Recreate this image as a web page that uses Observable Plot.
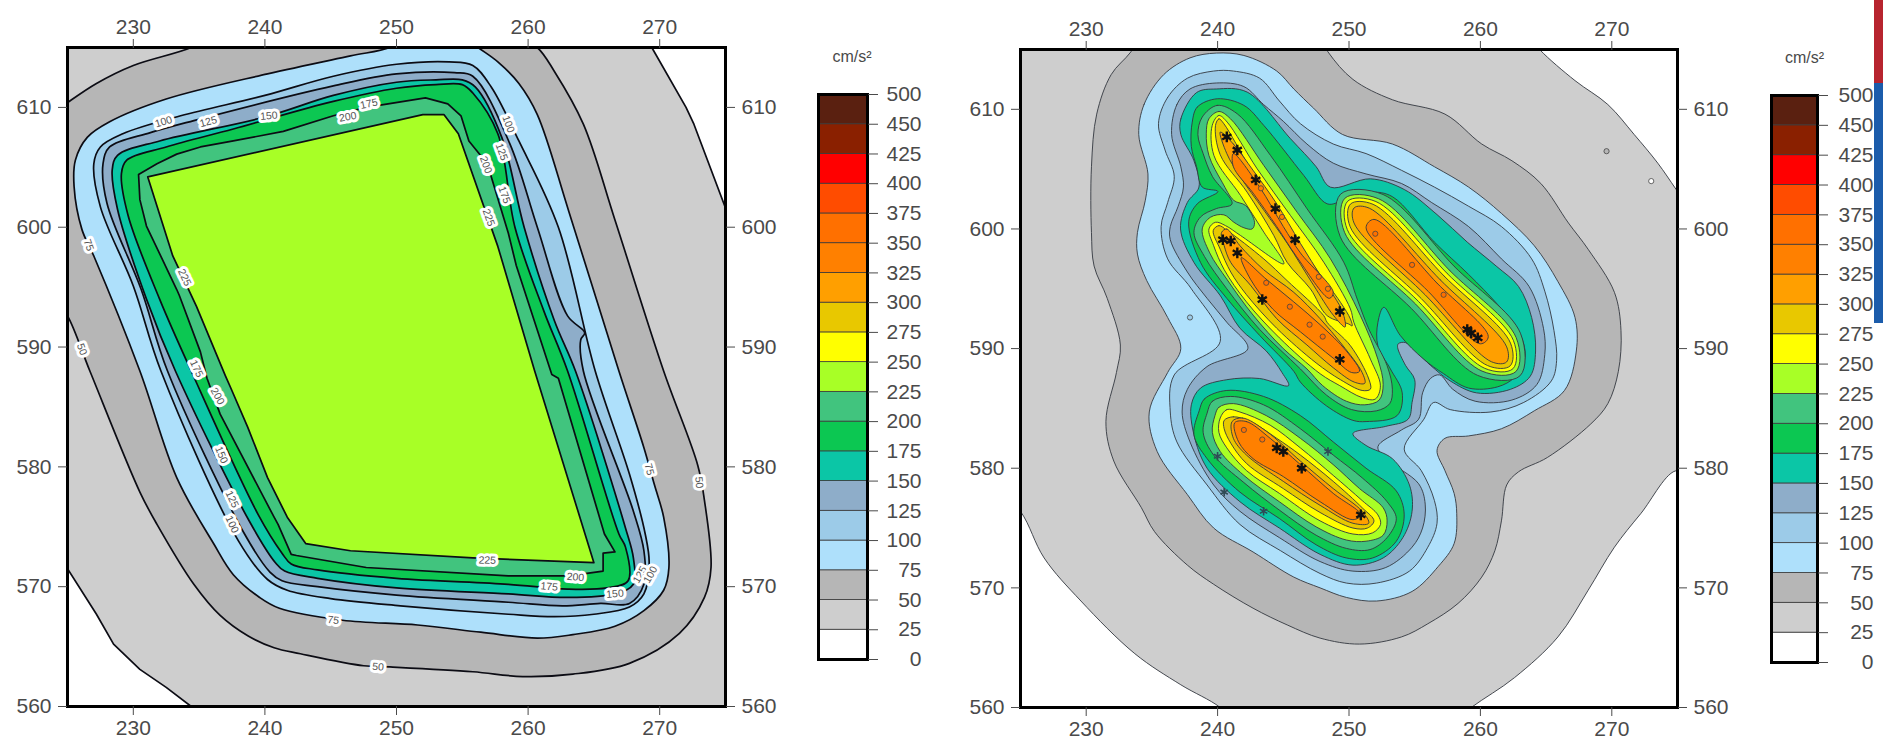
<!DOCTYPE html>
<html>
<head>
<meta charset="utf-8">
<script src="https://cdn.jsdelivr.net/npm/d3@7"></script>
<script src="https://cdn.jsdelivr.net/npm/@observablehq/plot@0.6"></script>
<style>
html,body{margin:0;padding:0;background:#fff;width:1883px;height:749px;overflow:hidden}
#root{position:relative;width:1883px;height:749px}
#root svg{position:absolute;top:0;overflow:visible;background:transparent}
.strip{position:absolute;left:1874px;width:9px}
</style>
</head>
<body>
<div id="root"></div>
<script>
const levels = [0,25,50,75,100,125,150,175,200,225,250,275,300,325,350,375,400,425,450,500];
const bandColors = ["#ffffff","#cecece","#b6b6b6","#aee0fb","#9ccbe8","#8eadc9","#0bc6a6","#0cc752","#41c47e","#a8ff26","#ffff00","#e8c800","#ff9f00","#ff8000","#ff7000","#ff4c00","#ff0000","#8a2000","#5a2010"];
const lonTicks = [230,240,250,260,270];
const latTicks = [560,570,580,590,600,610];

// Left map
const a25 = [[225,615],[269.4,615],[272,610],[272.6,608.6],[275,601.6],[275,560],[234.4,560],[232.5,561.6],[230.5,563.1],[228.5,565.2],[227.2,567.7],[225,571.5]];
const a50 = [[224,609.6],[225,610.4],[227.2,612],[230,613.5],[234.4,615],[236,616],[259,616],[260.7,615],[262,613],[264.2,608.6],[266.6,600.6],[270.3,588],[272.9,580.1],[273.4,577.2],[273.9,571.6],[273.4,569.1],[271.5,566.1],[267.7,563.6],[263.4,562.7],[259.6,562.5],[255.8,562.9],[249.5,563.3],[247.5,563.4],[242.7,564.4],[240.7,564.9],[238.7,565.9],[236.6,567.6],[234.6,570.2],[231.8,575.2],[230.5,577.9],[226.7,588],[225,592.6],[224,594]];
const a75 = [[249.5,615],[251,616],[255,616],[256.2,615],[257.7,613.8],[259.3,612],[260.7,609.4],[263.1,601.3],[266.9,588],[268.8,581.6],[269.6,578.5],[270.3,575.8],[270.7,571.6],[270.3,569.7],[268.8,568],[266.6,566.7],[263.4,566],[260.7,565.7],[256.4,566.2],[251.6,566.8],[245.9,567.2],[241.1,568.2],[239.6,569.1],[237.6,571],[236.1,573.6],[233.3,579.1],[230.5,588],[227,597.6],[226.1,599.8],[225.5,603.4],[225.6,605.6],[226.5,607.5],[228.2,608.8],[232.5,610.7],[240.2,612.8],[246.5,614.3]];
const a100 = [[227,605.3],[227.5,606.7],[229.2,607.8],[233.6,609.3],[240,611],[245.2,612.6],[250,613.6],[254,613.8],[255.8,613.5],[257.2,611.7],[259.3,607.2],[262.3,600],[265.1,588],[267.7,579.4],[268.9,574.4],[269.2,572],[268.8,569.4],[267.7,568.3],[265,567.7],[262,567.5],[258.5,567.7],[250.3,568.4],[245,569],[241.7,569.7],[240.2,570.6],[238,573.8],[232.1,588],[230,595.1],[227.5,601.7]];
const a125 = [[227.7,605.3],[228.2,606.7],[231.3,607.9],[234.6,608.9],[245.2,611.8],[250,612.8],[254.4,612.9],[255.8,612.6],[258.6,607],[260.7,600],[263,592.6],[264.3,591.2],[264,590.6],[264.2,588],[268,576.3],[268.8,573],[268.8,570.2],[267.7,568.6],[265.5,568.6],[262.6,568.4],[258.5,568.7],[250,569.3],[244,570],[241.3,570.5],[240.4,571.2],[238.4,574.5],[232.6,588],[230.6,594.8],[228,602]];
const a150 = [[228.4,604.8],[228.8,606],[232,607.2],[240,609.2],[245.2,611],[250,612.1],[253,612.3],[255,612.3],[256,611.7],[258,607.5],[259.7,600],[262,592.2],[263.6,588],[267.4,574.9],[268,572.4],[268,570.2],[266.6,569.4],[263,569.1],[258.5,569.4],[250,569.9],[244,570.7],[241.5,571.3],[240.8,572],[238.8,575.5],[233.2,588],[231,594],[228.8,601.5]];
const a175 = [[229.1,604.5],[229.5,605.6],[232.5,606.7],[237.6,608.2],[245.2,610.5],[250,611.6],[253,611.9],[255,611.9],[255.8,611.2],[257.7,607.8],[259,600],[261.2,593],[263,588],[266.9,574.4],[267.4,573.3],[267.6,570.5],[266,569.9],[263,569.8],[258.5,570.2],[250,570.7],[244,571.4],[242,571.9],[241.3,572.8],[239.5,576],[234.4,588],[232,594],[229.6,601]];
const a200 = [[230.4,604.4],[231.8,605.3],[233.3,606.1],[235.1,606.7],[237.6,607.2],[241.4,608],[245.2,609.3],[247.7,610],[252.2,610.8],[253.9,610.3],[254.9,609.3],[255.5,607.2],[256.9,605.3],[258.5,599.5],[259.1,596.8],[261.8,587.7],[262.3,587.4],[265.8,574.4],[266.6,572.9],[265.7,572.8],[265.7,571.3],[263.1,570.9],[258.5,570.9],[247.7,571.6],[242.4,572.6],[242,572.7],[241,575.2],[240.7,575.8],[236.6,584.4],[235.6,587.4],[235.1,589.6],[233.5,594.3],[233.3,594.8],[231,600.1],[230.5,602.3]];
const a225 = [[231.1,604.2],[252,609.4],[253.6,609.4],[254.7,607.8],[257.7,598.4],[260.5,588],[265,572],[255.8,572.4],[246.5,573],[243.1,573.6],[241.7,575.8],[240.2,579.1],[238.7,583.3],[237.4,586.6],[237,587.6],[234.8,593.4],[233,597.6]];
const leftSmooth = [[50,a50],[75,a75],[100,a100],[125,a125],[150,a150],[175,a175]];
const leftLabels = [
 [232.3,608.8,"100",-17],[235.7,608.8,"125",-15],[240.3,609.3,"150",-5],[246.3,609.2,"200",-10],[247.9,610.3,"175",-12],
 [226.6,598.5,"75",70],[226.1,589.8,"50",70],[233.9,595.8,"225",65],[234.8,588.2,"175",65],[236.4,585.9,"200",60],
 [236.7,581,"150",68],[237.5,577.3,"125",65],[237.5,575.2,"100",65],[245.2,567.2,"75",8],[248.6,563.3,"50",5],
 [256.9,572.2,"225",2],[263.6,570.8,"200",5],[261.6,570,"175",5],[266.6,569.4,"150",-5],[268.5,571,"125",-60],[269.3,571,"100",-60],
 [269.2,579.8,"75",75],[273,578.7,"50",85],[258.5,608.6,"100",70],[258,606.3,"125",70],[256.8,605.2,"200",70],[258.2,602.7,"175",70],[257,600.8,"225",70]
];

// Right map
const b25 = [[220,620],[263,617],[264.5,615],[267.2,612.4],[269.7,610.4],[271.7,607.9],[273.5,605.5],[274.9,603.3],[277,600],[280,590],[277,577],[275,579.8],[272.2,576.2],[270.2,573.4],[268.2,569.8],[265.9,565.9],[262.6,562.5],[259.3,560],[257,558],[242,558],[240.2,560],[237.2,561.9],[233.7,564.5],[229.6,568.9],[226.8,572.5],[225,576.4],[222,580],[220,600]];
const b50 = [[233.4,614.8],[235,617.5],[247,617.5],[248.4,614.8],[250.3,612.5],[253.3,610.8],[257.3,609.6],[260.1,607.1],[262.4,605.7],[264.6,603.8],[266.7,600.5],[268.2,598.3],[270.2,594.7],[270.7,591.5],[270.5,588.1],[269.7,585.4],[268.4,583.7],[265.1,580.9],[262.9,579.7],[262,578.6],[261.6,575.6],[261.1,573.1],[260.1,570.9],[258.3,568.7],[256,567],[254,565.9],[250.8,565.3],[247.8,565.8],[245.3,566.9],[242.7,568.3],[239.7,570.3],[237.7,571.9],[235.2,574.7],[234.2,576.7],[232.1,580.6],[231.5,583.9],[232.3,588],[232.6,590.3],[231.6,594.2],[230.6,596.9],[230.4,599.7],[230.4,605.2],[230.8,609.6],[231.9,612.9]];
const b75 = [[234,607.9],[234.4,610.4],[235.9,612.9],[237.9,614.3],[239.9,614.7],[242,614.5],[244.5,613.2],[245.8,611.7],[247.3,610.1],[249.5,607.9],[253.3,607.1],[256.5,605.2],[259.1,603.5],[261.6,601.3],[264.1,598.6],[265.9,595.6],[267.2,592.6],[267.3,589.8],[266.4,586.5],[264.1,584.8],[261.6,583.3],[259.1,582.7],[257.3,582.5],[256.7,581.5],[257.3,579.8],[258,577.9],[258.2,576.2],[258,573.7],[256.8,571.8],[254.8,569.7],[252.1,568.9],[249.8,569.2],[247.8,570],[245.8,570.9],[242.7,573],[239.7,575],[237.7,577.8],[235.4,581.4],[234.8,584.7],[236.2,588],[237.2,590],[236.2,592.6],[234.6,595.7],[233.9,597.9],[233.9,599.7],[234.5,602.4],[234.7,604.6]];
const b100 = [[235.5,608.8],[236.2,611],[237.7,612.6],[239.7,613.2],[241.2,613.2],[243.2,612.6],[244.7,610.7],[246.3,608.8],[248.8,607.1],[251.3,606.3],[254,604.9],[256.5,603.5],[259.1,601.9],[261.6,600.2],[263.9,597.5],[264.9,594.8],[265.6,591.5],[265.8,589],[265.4,587.3],[263.3,585.5],[260.8,584.7],[257.7,584.9],[256.45,585.5],[255.7,584.1],[254.2,581.6],[255.5,579.8],[256.5,577.3],[256.7,575.4],[256,573.4],[254.6,571.4],[252.1,570.4],[249.8,570.4],[247.8,571.2],[244.8,573.1],[241.7,575.3],[239.2,578.6],[236.9,582.2],[236.4,584.7],[236.7,587.8],[240.2,590.6],[238,595],[236.2,597.5],[235.7,600.2],[236.2,602.2],[236.7,604.4],[236,606.6]];
const b125 = [[236.5,607.9],[236.9,610.4],[237.9,611.7],[239.9,612.2],[242,611.9],[243.5,610.4],[245,609],[246.8,607.1],[248.8,605.5],[251.3,604.6],[254,603.8],[256.3,602.2],[259.1,600.2],[261.6,597.5],[263.7,595.2],[264.8,591.7],[264.9,589.5],[264.3,587],[262.4,585.7],[259.6,585.6],[257.9,586.6],[256.9,587.8],[256.2,587.5],[255.6,586.3],[255.3,584.1],[254,583.2],[252.2,581.8],[252.8,580.8],[255.3,578.7],[255.8,577],[255.6,575],[254.8,573.4],[252.8,571.7],[250.3,571.4],[247.8,572.2],[244.7,574.2],[241.7,576.4],[239.7,578.6],[237.9,582.2],[237.3,584.7],[237.7,586.6],[239.2,588.5],[242.3,590],[240.7,592.2],[239.2,594.2],[237.7,596.4],[236.4,599.1],[236.4,600.2],[237,601.9],[237.4,603.5],[237.2,605.2]];
const b150 = [[237.2,607.9],[237.2,609.2],[238.4,611.4],[239.9,611.7],[242.25,611.44],[245.55,607.54],[247.5,605.2],[248.59,603.49],[251.63,604.19],[254.2,603.3],[256.7,601.2],[259,598.9],[261.2,596.9],[262.9,595.2],[263.9,592.6],[264.2,589.8],[263.8,587.7],[262.3,586.6],[259.7,586.3],[257.7,587.3],[256.2,588.6],[254.3,590.5],[253.75,590.4],[253.7,590.1],[254.3,588.6],[255,587.4],[254.8,585.5],[254.5,584.1],[252.8,583.5],[250.3,582.9],[251.3,581.9],[253.3,580.8],[254.6,578.6],[254.8,576.4],[254.1,574.2],[252.6,572.5],[250.3,571.9],[247.8,572.8],[244.7,575],[241.7,577.2],[239.2,580],[238.2,582.8],[238,585.3],[238.7,586.7],[240.7,587.4],[243.2,587.5],[245.4,586.9],[244.9,588],[243.7,589.8],[241.7,591.7],[240.22,594.4],[238.2,597.2],[237.18,600],[237.69,602.2],[238.58,603.5],[238.2,605.7]];
const b175abc = [[238.07,608.93],[238.45,610.19],[239.97,610.88],[242,610.33],[243.52,608.65],[246.56,604.47],[248.34,602.1],[249.6,602.4],[251.63,603.07],[253.3,602.7],[256.5,598.9],[259.1,596.2],[261.3,593.7],[262.9,591.5],[263.4,589.3],[262.6,587.6],[261.3,586.8],[259.1,586.7],[257.2,587.9],[255.7,589.1],[253.9,591.1],[252.65,593.45],[252.2,592.2],[252.2,590.2],[253.15,588.3],[254.05,586.3],[253.66,584.4],[251.3,583.9],[250.3,584],[248.3,585.2],[246.3,587.2],[245.8,588.1],[243.2,591.1],[240.7,594.2],[238.7,597.2],[237.8,600.6],[238.45,602.1],[240.02,603.13],[238.83,603.5],[238.4,605.2],[238,606.9]];
const b175d = [[238.6,584.8],[239,585.8],[240.7,586.5],[243.5,586],[246.3,584.4],[248.8,582.2],[251.3,580],[253.6,578.1],[254.2,576.1],[253.6,573.9],[251.8,572.5],[249.8,572.5],[247.5,573.6],[244.7,575.8],[241.7,578],[239.2,580.8],[238.2,582.8]];
const b200ab = [[238.83,609.35],[239.97,610.33],[241.49,609.63],[244.03,606.14],[246.81,601.68],[249.6,597.22],[250.62,594.15],[251.51,591.63],[252.9,588.57],[253.3,586.6],[253.1,585.4],[252.1,584.8],[250.2,584.9],[248.3,586.1],[246.3,588.3],[243.2,591.6],[240.7,595],[239,597.7],[238.2,599.7],[238.7,601],[239.9,601.7],[241.1,602.1],[239.6,604.4],[238.9,606.3],[238.5,607.9]];
const b200c = [[252.59,602.88],[258,596.88],[263.05,591.28],[263.02,587.73],[259.79,587.76],[254.74,593.36],[249.33,599.36],[249.36,602.91]];
const b200d = [[239.2,584.6],[239.6,585.6],[241,586],[243.5,585.3],[246.3,583.3],[248.8,581.1],[251,579.2],[252.9,577.2],[253.6,575.8],[252.9,574.2],[251.6,573.2],[249.8,573.3],[247.5,574.4],[244.7,576.5],[242,578.8],[239.7,581.1],[238.9,583]];
const b225ab = [[239.34,609.21],[240.1,609.82],[240.98,609.21],[243.52,605.3],[246.05,601.4],[248.59,597.5],[250.87,592.75],[252.2,589.1],[252.6,587],[252.3,585.7],[251.2,585.3],[249.8,585.6],[248,586.9],[246.8,588.3],[245,590],[242.7,592.8],[240.7,595.8],[239.4,598],[238.83,600],[239.46,600.98],[240.48,601.18],[241.24,600.56],[242,600.1],[242.63,600],[242.81,600.56],[242.13,601.96],[241.24,602.38],[240.35,603.9],[239.34,606.14],[239.14,608]];
const b225c = [[252.26,602.52],[257.67,596.52],[262.72,590.92],[262.7,588.08],[260.12,588.12],[255.07,593.72],[249.66,599.72],[249.68,602.56]];
const b225d = [[239.8,584.4],[240.1,585.1],[241.2,585.4],[243.7,584.4],[246.3,582.5],[248.8,580.3],[250.8,578.3],[252.6,576.7],[252.9,575.6],[252.6,574.4],[251.3,573.9],[249.8,574],[247.5,575.1],[244.7,577.2],[242,579.4],[240.2,581.4],[239.6,583]];
const b250ab = [[239.59,608.65],[240.1,609.49],[240.73,608.93],[243.01,605.03],[245.55,601.12],[248.08,597.22],[250.11,593.31],[250.37,592.19],[251.63,589.12],[252.39,586.89],[252,585.78],[251,585.9],[249.3,586.9],[247.8,587.9],[244.7,590.9],[242.2,593.9],[240.5,596.6],[239.7,598.6],[239.34,600],[239.84,600.56],[240.6,600.28],[241.75,599.45],[245.04,597.08],[243.52,599.73],[241.75,602.79],[239.72,606.14]];
const b250c = [[252.05,602.29],[257.46,596.29],[262.51,590.69],[262.48,588.32],[260.33,588.35],[255.28,593.95],[249.87,599.95],[249.9,602.32]];
const b250d = [[240.2,584.2],[240.7,584.9],[241.7,584.7],[244,583.6],[246.3,581.7],[248.8,579.4],[251,577.3],[252.2,576.1],[252.4,575.3],[251.8,574.6],[250.3,574.5],[247.8,575.6],[244.7,577.9],[242.2,579.8],[240.7,581.7],[240.1,583]];
const b275a = [[239.84,608.65],[240.1,609.21],[240.48,608.79],[242.51,605.03],[245.04,600.84],[247.32,596.94],[249.35,593.87],[250.11,592.47],[250.24,591.9],[249.99,592.05],[248.34,592.75],[247.07,594.98],[245.29,597.21],[244.28,599.45],[242.25,603.07],[240.2,606.2]];
const b275b = [[239.67,599.87],[240.1,600.28],[240.73,599.87],[243.52,597.49],[245.29,595.68],[248.08,592.75],[248.34,592.19],[250.11,590.24],[251.51,587.45],[251.63,586.61],[251,586.5],[249.35,587.4],[247.5,588.8],[244.5,591.7],[242.2,594.5],[241,596.4],[240.2,598.3]];
const b275c = [[251.83,602.06],[257.24,596.06],[262.29,590.46],[262.27,588.56],[260.55,588.58],[255.5,594.18],[250.09,600.18],[250.11,602.08]];
const b275d = [[240.5,584],[241.2,584.3],[242.5,583.9],[244.5,582.5],[246.3,581.1],[248.8,578.9],[251,576.7],[251.9,575.6],[251.4,575],[250.3,575],[247.8,576.3],[245,578.3],[242.2,580.4],[241,582.1],[240.5,583.3]];
const b300a = [[240.2,608.1],[241.2,607.1],[242.7,604.9],[244.5,602.1],[246.3,598.8],[248,595.8],[249.5,593.1],[249.7,591.8],[248.8,592.8],[247.3,595.3],[245.3,598.8],[243.5,601.6],[241.7,604.4],[240.7,606.3]];
const b300b = [[240.3,599.7],[240.7,600],[241.7,598.6],[243.5,596.6],[245.8,594.7],[247.8,592.5],[249.5,590.3],[251,588],[251.2,587.1],[250.4,587.2],[248.8,588.4],[246.8,590.3],[244.5,592.5],[242.5,595.3],[241,597.2],[240.5,598.6]];
const b300c = [[251.54,601.74],[256.95,595.74],[262,590.14],[261.99,588.88],[260.84,588.9],[255.79,594.5],[250.38,600.5],[250.39,601.76]];
const b300d = [[241.1,583.9],[241.9,584.2],[243.7,583.1],[246.3,580.6],[248.8,578.3],[251,576.4],[251.5,575.4],[250.3,575.4],[247.8,576.9],[245,578.9],[242.2,581.1],[241.2,582.5]];
const b325a = [[241.2,606.3],[243.2,603.5],[245,600.2],[246.3,598],[248.8,594.7],[248.5,594.2],[246,597.7],[244.5,600.2],[242.7,603],[241.2,605.2]];
const b325b = [[241.8,597.6],[243.7,595.8],[245.8,593.9],[247.8,592],[249.8,589.8],[250.8,588.1],[250.2,588],[248.8,589.2],[246.3,591.4],[244.2,593.3],[242.5,595.8]];
const b325c = [[251.9,600.8],[256.7,595.47],[260.6,591],[260,590.4],[256.04,594.77],[251.3,600.1]];
const b325d = [[241.3,583.8],[242.2,583.9],[244,582.5],[246.3,580.3],[248.8,577.9],[250.9,576.1],[250.3,575.7],[247.8,577.2],[245,579.3],[242.7,580.8],[241.6,582.2]];
const rightRings = [[25,b25],[50,b50],[75,b75],[100,b100],[125,b125],[150,b150],[175,b175abc],[175,b175d],[200,b200ab],[200,b200c],[200,b200d],[225,b225ab],[225,b225c],[225,b225d],[250,b250ab],[250,b250c],[250,b250d],[275,b275a],[275,b275b],[275,b275c],[275,b275d],[300,b300a],[300,b300b],[300,b300c],[300,b300d],[325,b325a],[325,b325b],[325,b325c],[325,b325d]];
const strongStars = [[240.7,607.7],[241.5,606.6],[242.9,604.1],[244.4,601.7],[245.9,599.1],[249.3,593.1],[249.3,589.1],[240.4,599.1],[241,599],[241.5,598],[243.4,594.1],[244.5,581.7],[245,581.4],[246.4,580],[250.9,576.1],[259.3,591.3],[259.8,590.9],[259,591.6]];
const faintStars = [[240,581],[240.5,578],[243.5,576.4],[248.4,581.4]];
const loops = [[269.6,606.5,"#b6b6b6"],[273,604,"#ffffff"],[237.9,592.6,"#9ccbe8"],[243.3,603.4,"#ff8000"],[244.9,601,"#ff8000"],[247.7,596,"#ff8000"],[248.4,595,"#ff8000"],[243.7,595.5,"#ff7000"],[245.5,593.5,"#ff7000"],[247,592,"#ff7000"],[248,591,"#ff7000"],[252,599.6,"#ff7000"],[254.8,597,"#ff7000"],[257.2,594.5,"#ff7000"],[242,583.2,"#ff7000"],[243.4,582.4,"#ff7000"]];

const colorScale = {type:"ordinal", domain: levels.slice(0,-1), range: bandColors};
const rowsOf = rings => rings.flatMap(([level,pts],ring)=>pts.map(([lon,lat])=>({ring,level,lon,lat})));
const baseStyle = {fontFamily:"'Liberation Sans',Arial,sans-serif",fontSize:"21px",color:"#4a4a4a",background:"transparent"};
const axes = () => [
  Plot.axisX({anchor:"top",ticks:lonTicks,tickSize:9,tickPadding:5,label:null,tickFormat:d=>d}),
  Plot.axisX({anchor:"bottom",ticks:lonTicks,tickSize:9,tickPadding:5,label:null,tickFormat:d=>d}),
  Plot.axisY({anchor:"left",ticks:latTicks,tickSize:9,tickPadding:7,label:null,tickFormat:d=>d}),
  Plot.axisY({anchor:"right",ticks:latTicks,tickSize:9,tickPadding:7,label:null,tickFormat:d=>d})
];
const root = document.getElementById("root");
function place(svg,left){ svg.style.left = left+"px"; root.appendChild(svg); }

const leftStroke = {x:"lon",y:"lat",z:"ring",fill:"level",stroke:"#0c0c14",strokeWidth:1.7,clip:true};
place(Plot.plot({
  width:800,height:749,marginLeft:67,marginRight:75,marginTop:47,marginBottom:43,style:baseStyle,color:colorScale,
  x:{domain:[225,275]},
  y:{domain:[560,615]},
  marks:[
    Plot.line(rowsOf([[25,a25]]),{...leftStroke,curve:"linear-closed"}),
    Plot.line(rowsOf(leftSmooth),{...leftStroke,curve:"catmull-rom-closed"}),
    Plot.line(rowsOf([[200,a200],[225,a225]]),{...leftStroke,curve:"linear-closed"}),
    Plot.text(leftLabels,{x:d=>d[0],y:d=>d[1],text:d=>d[2],rotate:d=>d[3],fontSize:10.5,fill:"#555",stroke:"#fff",strokeWidth:6,clip:true}),
    Plot.frame({stroke:"#000",strokeWidth:3}),
    ...axes()
  ]
}),0);

place(Plot.plot({
  width:797,height:749,marginLeft:70,marginRight:70,marginTop:49,marginBottom:42,style:baseStyle,color:colorScale,
  x:{domain:[225,275]},
  y:{domain:[560,615]},
  marks:[
    Plot.line(rowsOf(rightRings),{x:"lon",y:"lat",z:"ring",fill:"level",stroke:"#33383f",strokeWidth:0.9,curve:"catmull-rom-closed",clip:true}),
    Plot.dot(loops,{x:d=>d[0],y:d=>d[1],fill:d=>d[2],stroke:"#444",strokeWidth:0.8,r:2.6,clip:true}),
    Plot.dot(faintStars,{x:d=>d[0],y:d=>d[1],symbol:"asterisk",r:4,stroke:"#2f4a55",strokeWidth:1.6,clip:true}),
    Plot.dot(strongStars,{x:d=>d[0],y:d=>d[1],symbol:"asterisk",r:5,stroke:"#111",strokeWidth:2.4,clip:true}),
    Plot.frame({stroke:"#000",strokeWidth:3}),
    ...axes()
  ]
}),950);

function bar(left,width,x0,x1,top,bottom,tickSize,labelRight,unitDx){
  const bands = d3.pairs(levels).map(([lo,hi],i)=>({lo,y1:i,y2:i+1}));
  place(Plot.plot({
    width,height:749,marginLeft:x0-left,marginRight:left+width-x1,marginTop:top,marginBottom:749-bottom,style:baseStyle,color:colorScale,
    x:{domain:[0,1],axis:null},
    y:{domain:[0,levels.length-1]},
    marks:[
      Plot.rect(bands,{x1:()=>0,x2:()=>1,y1:"y1",y2:"y2",fill:"lo",stroke:"#3a3a3a",strokeWidth:0.8}),
      Plot.frame({stroke:"#000",strokeWidth:3}),
      Plot.axisY({anchor:"right",ticks:d3.range(levels.length),tickSize,tickPadding:labelRight-x1-tickSize,textAnchor:"end",label:null,tickFormat:i=>levels[i]}),
      Plot.text(["cm/s²"],{frameAnchor:"top",dy:-44,dx:unitDx,fontSize:16,fill:"#4a4a4a"})
    ]
  }),left);
}
bar(790,140,818,867,94,659,10,921,9);
bar(1758,125,1771,1817,95,662,10,1873,10);

[["0px","83px","#b7242f"],["83px","240px","#1b5cab"]].forEach(([top,height,bg])=>{
  const s=document.createElement("div"); s.className="strip"; s.style.top=top; s.style.height=height; s.style.background=bg; root.appendChild(s);
});
</script>
</body>
</html>
